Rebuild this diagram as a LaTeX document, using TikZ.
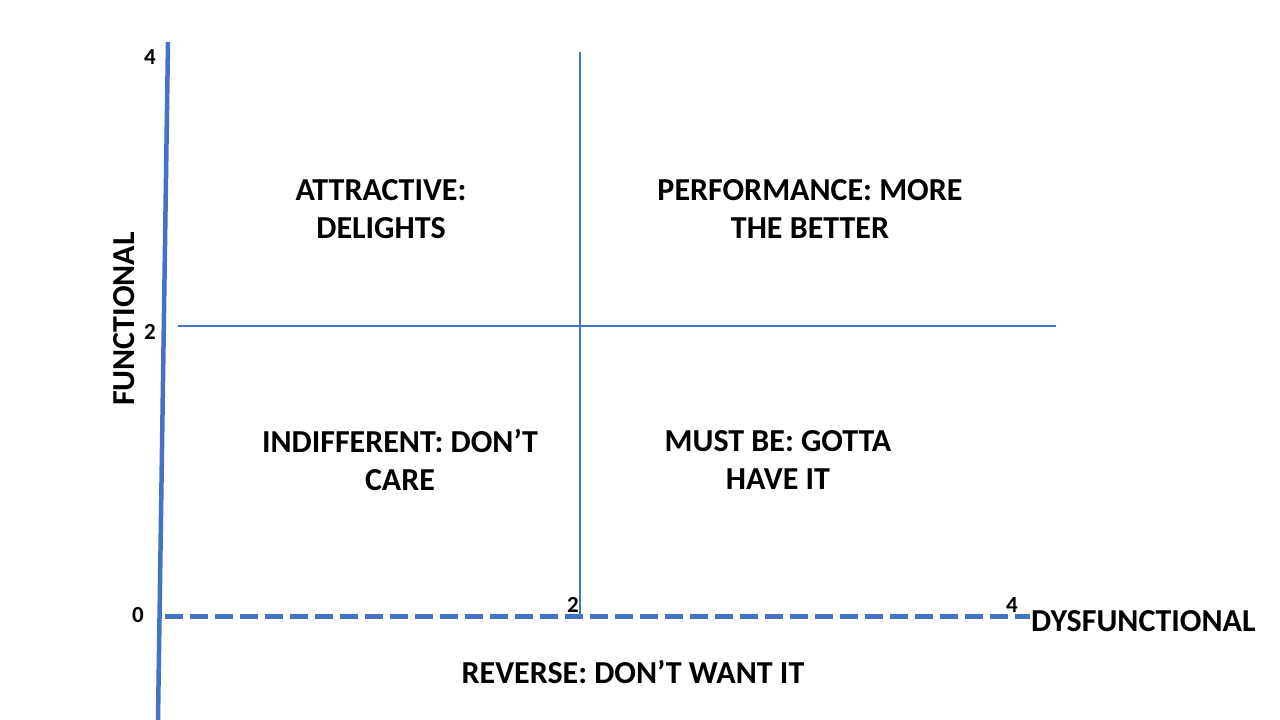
\documentclass[tikz,border=0pt]{standalone}
\usepackage{fontspec}
\setmainfont{Carlito}
\definecolor{axisblue}{HTML}{4472C4}
\begin{document}
\begin{tikzpicture}[x=1pt,y=-1pt,
  axis/.style={draw=axisblue,line width=4.5pt},
  thin/.style={draw=axisblue,line width=1.4pt},
  quad/.style={font=\fontsize{32}{38}\selectfont\bfseries,align=center,inner sep=0pt},
  tick/.style={font=\fontsize{23}{26}\selectfont\bfseries,inner sep=0pt},
  axlabel/.style={font=\fontsize{32}{36}\selectfont\bfseries,inner sep=0pt}]
\useasboundingbox[fill=white] (0,0) rectangle (1280,720);
% axes
\coordinate (ytop) at (168,42);
\coordinate (ybot) at (158,720);
\coordinate (xl) at (165,616);
\coordinate (xr) at (1030,616);
\draw[axis] (ybot) -- (ytop);
\draw[axis,line width=5pt,dash pattern=on 18pt off 7pt] (xl) -- (xr);
% grid lines
\coordinate (vt) at (580,52);
\coordinate (vb) at (580,616);
\coordinate (hl) at (178,326);
\coordinate (hr) at (1056,326);
\draw[thin] (vt) -- (vb);
\draw[thin] (hl) -- (hr);
% ticks
\node[tick] (t4y) at (150,57) {4};
\node[tick] (t2y) at (150,332) {2};
\node[tick] (t0y) at (138,615) {0};
\node[tick] (t2x) at (573,605) {2};
\node[tick] (t4x) at (1012,605) {4};
% axis labels
\node[axlabel,rotate=90] (fl) at (124,319) {FUNCTIONAL};
\node[axlabel,anchor=west] (dl) at (1031,621) {DYSFUNCTIONAL};
% quadrants
\node[quad] (att) at (381,209) {ATTRACTIVE:\\DELIGHTS};
\node[quad] (perf) at (810,209) {PERFORMANCE: MORE\\THE BETTER};
\node[quad] (ind) at (400,460) {INDIFFERENT: DON’T\\CARE};
\node[quad] (must) at (778,460) {MUST BE: GOTTA\\HAVE IT};
\node[quad] (rev) at (633,672) {REVERSE: DON’T WANT IT};
\end{tikzpicture}
\end{document}
